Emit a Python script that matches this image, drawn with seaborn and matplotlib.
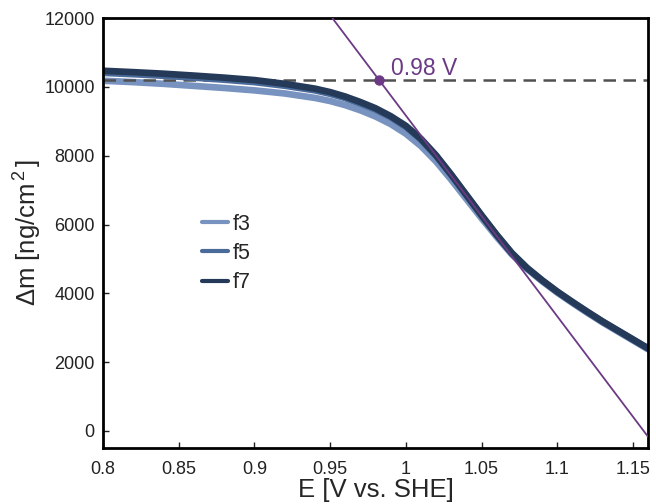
import numpy as np
import pandas as pd
import matplotlib
matplotlib.use("Agg")
import matplotlib.pyplot as plt
import seaborn as sns

# ---- data ----
E = [0.80, 0.82, 0.84, 0.86, 0.88, 0.90, 0.92, 0.94, 0.95, 0.96, 0.97, 0.98,
     0.99, 1.00, 1.01, 1.02, 1.03, 1.04, 1.05, 1.06, 1.07, 1.08, 1.09, 1.10,
     1.11, 1.12, 1.13, 1.14, 1.15, 1.16]
f3 = [10180, 10140, 10090, 10030, 9970, 9900, 9810, 9680, 9590, 9470, 9320, 9140,
      8920, 8640, 8280, 7830, 7300, 6740, 6180, 5640, 5130, 4710, 4350, 4020,
      3720, 3430, 3150, 2890, 2630, 2370]
f5 = [10410, 10370, 10325, 10270, 10210, 10140, 10035, 9900, 9800, 9675, 9515, 9340,
      9120, 8840, 8465, 7990, 7435, 6850, 6260, 5690, 5160, 4730, 4370, 4040,
      3740, 3450, 3170, 2910, 2650, 2390]
f7 = [10470, 10430, 10385, 10330, 10270, 10200, 10090, 9950, 9850, 9720, 9560, 9380,
      9150, 8870, 8490, 8010, 7450, 6860, 6270, 5700, 5170, 4740, 4380, 4050,
      3750, 3460, 3180, 2920, 2660, 2400]
series_names = ["f3", "f5", "f7"]
plateau = 10190          # dashed reference level
onset_E = 0.982          # intersection point
onset_label = "0.98 V"
tangent_E = [0.9515, 1.16]
tangent_m = [12000, -174]
xticks = [0.8, 0.85, 0.9, 0.95, 1.0, 1.05, 1.1, 1.15]
xtick_labels = ["0.8", "0.85", "0.9", "0.95", "1", "1.05", "1.1", "1.15"]
yticks = [0, 2000, 4000, 6000, 8000, 10000, 12000]

sns.set_theme(style="white")
plt.rcParams["font.family"] = ["Liberation Sans", "DejaVu Sans"]
plt.rcParams["mathtext.fontset"] = "custom"
plt.rcParams["mathtext.rm"] = "Liberation Sans"
plt.rcParams["mathtext.it"] = "Liberation Sans"

df = pd.DataFrame({
    "E": E * 3,
    "m": f3 + f5 + f7,
    "series": [s for s in series_names for _ in E],
})
palette = {"f3": "#7893bf", "f5": "#4a6a9a", "f7": "#253a58"}

fig = plt.figure(figsize=(6.56, 5.04), dpi=100)
ax = fig.add_axes([0.157, 0.111, 0.831, 0.853])

sns.lineplot(data=df, x="E", y="m", hue="series", palette=palette,
             linewidth=4.8, ax=ax, sort=False)
for ln, z in zip(ax.lines[:3], [1.5, 2.0, 2.1]):
    ln.set_zorder(z)
    ln.set_solid_joinstyle("round")

ax.plot([0.8, 1.16], [plateau, plateau], linestyle=(0, (5, 3)),
        color="#505050", linewidth=1.8, zorder=1.8)
ax.plot(tangent_E, tangent_m, color="#6c3a85", linewidth=1.3, zorder=4)
ax.plot([onset_E], [plateau], "o", color="#6c3a85", markersize=6.5, zorder=5)
ax.text(onset_E + 0.0085, plateau + 150, onset_label, color="#6c3a85",
        fontsize=16.5, va="baseline", ha="left")

ax.set_xlim(0.8, 1.16)
ax.set_ylim(-500, 12000)
ax.set_xticks(xticks)
ax.set_xticklabels(xtick_labels)
ax.set_yticks(yticks)
ax.tick_params(axis="both", direction="in", length=4, width=1, labelsize=13,
               colors="#222222", bottom=True, left=True, top=False, right=False)
ax.tick_params(axis="x", pad=9)
ax.tick_params(axis="y", pad=6)
for sp in ax.spines.values():
    sp.set_linewidth(2)
    sp.set_color("black")

ax.set_xlabel("E [V vs. SHE]", fontsize=18.5, labelpad=0)
ax.set_ylabel(r"$\Delta$m [ng/cm$^{\,2\,}$]", fontsize=18.5, labelpad=0)

leg = ax.legend(loc="upper left", bbox_to_anchor=(0.165, 0.565), frameon=False,
                fontsize=15.5, handlelength=1.25, handletextpad=0.2,
                labelspacing=0.38, borderaxespad=0)
for line in leg.get_lines():
    line.set_linewidth(3)

fig.savefig("out.png", dpi=100)
